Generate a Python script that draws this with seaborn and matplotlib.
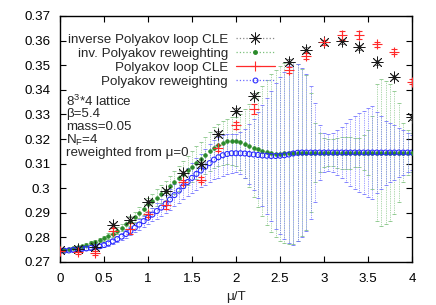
import numpy as np
import matplotlib
matplotlib.use('Agg')
import matplotlib.pyplot as plt
from matplotlib.lines import Line2D
from matplotlib.ticker import FuncFormatter, MultipleLocator
import seaborn as sns

# CLE data points (mu/T = 0 ... 4 in steps of 0.2, no point at 2.4)
mu_cle=[0.0, 0.2, 0.4, 0.6, 0.8, 1.0, 1.2, 1.4, 1.6, 1.8, 2.0, 2.2, 2.6, 2.8, 3.0, 3.2, 3.4, 3.6, 3.8, 4.0]
inv_cle=[.2748, .2752, .2759, .2849, .2872, .2943, .2987, .3060, .3099, .3222,
         .3314, .3375, .3515, .3562, .3594, .3598, .3572, .3511, .3452, .3289]
inv_cle_err=[.0004, .0004, .0005, .0008, .0010, .0008, .0008, .0008, .0008, .0010,
             .0010, .0010, .0010, .0010, .0010, .0010, .0010, .0010, .0010, .0010]
pol_cle=[.2745, .2740, .2735, .2826, .2835, .2894, .2932, .3025, .3035, .3165,
         .3256, .3321, .3479, .3537, .3594, .3622, .3623, .3585, .3555, .3432]
pol_cle_err=[.0004, .0006, .0008, .0013, .0022, .0010, .0015, .0010, .0010, .0012,
             .0015, .0020, .0012, .0012, .0010, .0018, .0015, .0010, .0010, .0010]

# reweighting curves, mu/T = 0 ... 4 in steps of 0.05
mu_rw=np.round(np.arange(81)*0.05, 2)
inv_rw=[.2748, .2749, .2752, .2756, .2761, .2766, .2771, .2777, .2783, .2790,
        .2797, .2805, .2815, .2827, .2840, .2853, .2867, .2884, .2900, .2917,
        .2934, .2948, .2962, .2976, .2990, .3007, .3024, .3040, .3057, .3072,
        .3087, .3103, .3118, .3133, .3150, .3165, .3176, .3184, .3190, .3192,
        .3191, .3188, .3181, .3173, .3165, .3158, .3151, .3146, .3143, .3141,
        .3141, .3142, .3144, .3145, .3145, .3145, .3145, .3145, .3145, .3145,
        .3145, .3145, .3145, .3144, .3144, .3144, .3145, .3145, .3145, .3145,
        .3145, .3145, .3145, .3145, .3145, .3145, .3145, .3145, .3145, .3145, .3145]
inv_rw_err=[.0003, .0003, .0004, .0004, .0005, .0005, .0006, .0007, .0008, .0009,
            .0010, .0011, .0012, .0014, .0015, .0017, .0019, .0021, .0023, .0025,
            .0027, .0030, .0033, .0036, .0039, .0043, .0047, .0051, .0055, .0059,
            .0063, .0067, .0071, .0075, .0079, .0082, .0085, .0088, .0092, .0096,
            .0100, .0115, .0140, .0170, .0200, .0235, .0265, .0295, .0320, .0340,
            .0355, .0365, .0370, .0370, .0360, .0340, .0315, .0240, .0120, .0080,
            .0060, .0055, .0055, .0060, .0065, .0065, .0065, .0060, .0060, .0070,
            .0090, .0150, .0280, .0300, .0290, .0280, .0250, .0200, .0120, .0090, .0080]
pol_rw=[.2745, .2746, .2747, .2749, .2751, .2753, .2755, .2757, .2760, .2764,
        .2769, .2776, .2784, .2793, .2803, .2814, .2826, .2839, .2852, .2866,
        .2880, .2893, .2907, .2921, .2936, .2954, .2972, .2990, .3008, .3025,
        .3042, .3058, .3072, .3087, .3102, .3116, .3126, .3134, .3139, .3142,
        .3142, .3142, .3141, .3139, .3137, .3135, .3133, .3132, .3131, .3131,
        .3132, .3134, .3137, .3141, .3144, .3145, .3145, .3145, .3145, .3145,
        .3145, .3145, .3145, .3145, .3145, .3145, .3145, .3145, .3145, .3145,
        .3145, .3145, .3145, .3145, .3145, .3145, .3145, .3145, .3145, .3145, .3145]
pol_rw_err=[.0003, .0003, .0003, .0004, .0004, .0005, .0005, .0006, .0007, .0008,
            .0009, .0010, .0011, .0012, .0014, .0015, .0017, .0019, .0021, .0023,
            .0025, .0028, .0031, .0034, .0037, .0041, .0045, .0049, .0053, .0057,
            .0061, .0065, .0069, .0073, .0077, .0080, .0083, .0084, .0083, .0080,
            .0078, .0085, .0100, .0120, .0145, .0175, .0205, .0235, .0265, .0295,
            .0320, .0340, .0360, .0370, .0360, .0345, .0320, .0270, .0200, .0110,
            .0080, .0075, .0080, .0090, .0105, .0120, .0135, .0150, .0160, .0170,
            .0180, .0190, .0165, .0150, .0130, .0120, .0110, .0100, .0090, .0080, .0070]

labels=['inverse Polyakov loop CLE', 'inv. Polyakov reweighting',
        'Polyakov loop CLE', 'Polyakov reweighting']
info_lines=['8$^{3}$*4 lattice', 'β=5.4', 'mass=0.05', 'N$_{F}$=4', 'reweighted from μ=0']

sns.set_style('ticks')
plt.rcParams['font.family']=['Liberation Sans', 'DejaVu Sans']
plt.rcParams['mathtext.fontset']='custom'
plt.rcParams['mathtext.rm']='Liberation Sans'
plt.rcParams['mathtext.default']='regular'
fs=9.6

c_blk='#1a1a1a'
c_grn='#2a8a2a'
c_grn_bar='#7cc07c'
c_red='#ff2a2a'
c_blu='#2525ff'
c_blu_bar='#6a6aff'
dots=(0, (1.0, 1.3))

fig=plt.figure(figsize=(4.36, 3.05), dpi=100)
ax=fig.add_axes([60/436, 43/305, 352/436, 246/305])

def bars(x, y, e, color, ls, lw=0.55, cap=1.3):
    eb=ax.errorbar(x, y, yerr=e, fmt='none', ecolor=color, elinewidth=lw,
                   capsize=cap, capthick=lw, zorder=2)
    for lc in eb[2]:
        lc.set_linestyle(ls)
    return eb

# inverse Polyakov loop CLE
bars(mu_cle, inv_cle, inv_cle_err, '#555555', dots)
sns.scatterplot(x=mu_cle, y=inv_cle, marker=(8, 2, 0), s=65, color=c_blk,
                linewidth=0.6, ax=ax, zorder=5)

# inv. Polyakov reweighting
bars(mu_rw, inv_rw, inv_rw_err, c_grn_bar, dots)
sns.scatterplot(x=mu_rw, y=inv_rw, marker='o', s=7, color=c_grn,
                edgecolor=c_grn, linewidth=0.5, ax=ax, zorder=3)

# Polyakov loop CLE
bars(mu_cle, pol_cle, pol_cle_err, c_red, '-', lw=0.8, cap=2)
sns.scatterplot(x=mu_cle, y=pol_cle, marker='+', s=50, color=c_red,
                linewidth=0.8, ax=ax, zorder=5)

# Polyakov reweighting
bars(mu_rw, pol_rw, pol_rw_err, c_blu_bar, dots)
sns.scatterplot(x=mu_rw, y=pol_rw, marker='o', s=13, facecolors='none',
                edgecolor=c_blu, linewidth=0.75, ax=ax, zorder=4)

ax.set_xlim(0, 4)
ax.set_ylim(0.27, 0.37)
ax.xaxis.set_major_locator(MultipleLocator(0.5))
ax.yaxis.set_major_locator(MultipleLocator(0.01))
fmt=FuncFormatter(lambda v, p: f'{v:g}')
ax.xaxis.set_major_formatter(fmt)
ax.yaxis.set_major_formatter(fmt)
ax.tick_params(direction='in', length=4, width=0.8, labelsize=fs,
               top=True, right=True, colors='black')
ax.tick_params(axis='x', pad=8)
ax.tick_params(axis='y', pad=7)
for sp in ax.spines.values():
    sp.set_linewidth(1.0)
    sp.set_color('black')
ax.set_xlabel('μ/T', fontsize=fs, labelpad=4)
ax.set_ylabel('')

handles=[
    Line2D([], [], color='#888888', ls=':', lw=0.9, marker=(8, 2, 0), ms=8.5,
           mec=c_blk, mew=0.6),
    Line2D([], [], color=c_grn_bar, ls=':', lw=0.9, marker='o', ms=2.5,
           mfc=c_grn, mec=c_grn),
    Line2D([], [], color=c_red, ls='-', lw=0.9, marker='+', ms=7, mew=0.8),
    Line2D([], [], color=c_blu_bar, ls=':', lw=0.9, marker='o', ms=3.5,
           mfc='none', mec=c_blu, mew=0.75),
]
ax.legend(handles, labels, loc='upper left', bbox_to_anchor=(0.022, 0.93),
          frameon=False, markerfirst=False, fontsize=fs, handlelength=2.9,
          handletextpad=0.6, labelspacing=0.13, borderpad=0, borderaxespad=0)

ys=[101, 114, 127, 140, 153]
for t, yp in zip(info_lines, ys):
    ax.text(0.018, 1-(yp-16)/246, t, transform=ax.transAxes, fontsize=fs,
            ha='left', va='center')

fig.savefig('out.png', dpi=100)
